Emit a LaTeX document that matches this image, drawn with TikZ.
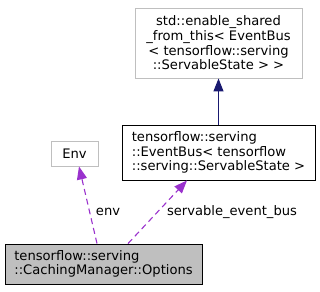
\documentclass[tikz,border=0pt]{standalone}
\usepackage{fontspec}
\setmainfont{DejaVu Sans}
\usetikzlibrary{arrows.meta}
\definecolor{grayedge}{HTML}{BFBFBF}
\definecolor{optfill}{HTML}{BFBFBF}
\definecolor{inherit}{HTML}{191970}
\definecolor{usage}{HTML}{9A32CD}
\begin{document}
\begin{tikzpicture}[x=1pt,y=-1pt,
  every node/.style={font=\fontsize{13.1}{14.7}\selectfont, inner sep=0pt},
  classbox/.style={draw=black, line width=0.9pt, rectangle, fill=white},
  extbox/.style={draw=grayedge, line width=0.9pt, rectangle, fill=white},
  inheritedge/.style={draw=inherit, line width=1.1pt, -{Triangle[length=13pt,width=10pt]}},
  useedge/.style={draw=usage, line width=1.1pt, dash pattern=on 6pt off 4pt, -{Triangle[length=13pt,width=10pt]}},
  edgelabel/.style={text=black}
]
\useasboundingbox (0,0) rectangle (320,291);

% classes
\node[extbox, minimum width=167pt, minimum height=70pt, align=center] (base) at (218.5,43)
  {std::enable\_shared\\\_from\_this< EventBus\\< tensorflow::serving\\::ServableState > >};
\node[classbox, minimum width=193pt, minimum height=55pt, align=left] (bus) at (218.5,152.5)
  {tensorflow::serving\\::EventBus< tensorflow\\::serving::ServableState >};
\node[extbox, minimum width=47pt, minimum height=25pt] (env) at (74.5,153.5) {Env};
\node[classbox, fill=optfill, minimum width=197pt, minimum height=40pt, align=left] (opt) at (103.5,264)
  {tensorflow::serving\\::CachingManager::Options};

% attachment points of the member edges
\coordinate (optA) at ([xshift=-6.5pt]opt.north);
\coordinate (optB) at ([xshift=24.5pt]opt.north);
\coordinate (envIn) at ([xshift=4.5pt]env.south);
\coordinate (busIn) at ([xshift=-31.5pt]bus.south);

% inheritance
\draw[inheritedge] (bus.north) -- (base.south);

% members
\draw[useedge] (optA) -- (envIn);
\draw[useedge] (optB) -- (busIn);

\node[edgelabel] (lenv) at (108,212) {env};
\node[edgelabel] (lbus) at (232,212) {servable\_event\_bus};
\end{tikzpicture}
\end{document}
